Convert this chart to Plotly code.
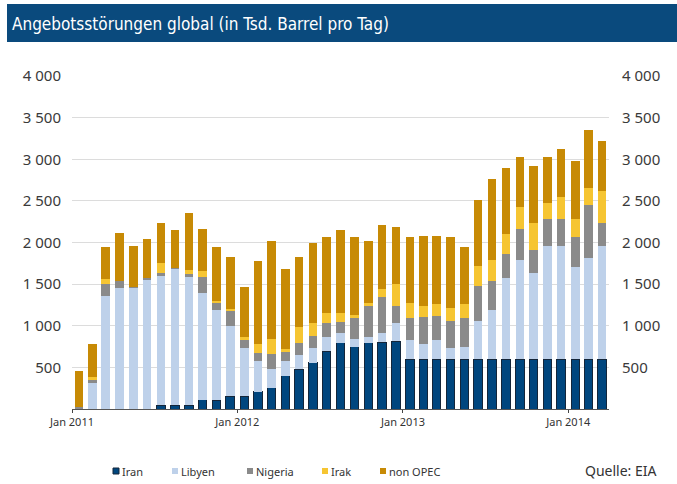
import pandas as pd
import plotly.graph_objects as go

# Monthly supply disruptions, thousand barrels per day
months = pd.date_range("2011-01-01", "2014-03-01", freq="MS")

iran = [0, 0, 0, 0, 0, 0, 48, 48, 48, 112, 108, 152,
        152, 208, 256, 400, 476, 556, 696, 796, 748, 796, 800, 816,
        600, 600, 600, 600, 600, 600, 600, 600, 600, 600, 600, 600,
        600, 600, 600]
libyen = [0, 310, 1356, 1448, 1456, 1556, 1548, 1640, 1548, 1284, 1080, 844,
          576, 372, 220, 180, 172, 172, 172, 120, 92, 72, 116, 212,
          228, 176, 228, 128, 148, 456, 588, 968, 1188, 1028, 1356, 1356,
          1100, 1208, 1356]
nigeria = [20, 35, 140, 92, 12, 16, 32, 8, 20, 188, 92, 184,
           100, 96, 184, 100, 148, 148, 168, 124, 248, 368, 432, 212,
           260, 324, 292, 332, 348, 420, 352, 292, 380, 280, 332, 332,
           368, 648, 284]
irak = [0, 45, 68, 0, 0, 0, 128, 0, 52, 68, 20, 16,
        40, 100, 180, 44, 192, 152, 120, 116, 40, 32, 88, 256,
        188, 140, 140, 156, 164, 240, 248, 248, 260, 332, 192, 260,
        220, 200, 376]
non_opec = [436, 386, 380, 572, 496, 476, 480, 452, 692, 516, 644, 628,
            600, 996, 1180, 952, 836, 964, 912, 992, 940, 752, 772, 692,
            792, 844, 824, 848, 688, 800, 980, 792, 600, 680, 548, 576,
            692, 692, 604]

y_ticks = [500, 1000, 1500, 2000, 2500, 3000, 3500, 4000]
y_labels = ["500", "1 000", "1 500", "2 000", "2 500", "3 000", "3 500", "4 000"]

series = [
    ("Iran", iran, "#00467e"),
    ("Libyen", libyen, "#bed1ea"),
    ("Nigeria", nigeria, "#8a8a8a"),
    ("Irak", irak, "#f6c532"),
    ("non OPEC", non_opec, "#c78a05"),
]

# plot area in pixels
W, H = 677, 484
L, R, T, B = 72, 609, 76, 409


def px_x(x):
    return (x - L) / (R - L)


def px_y(y):
    return (B - y) / (B - T)


bar_w = 18.8 * 86400000  # ms

fig = go.Figure()
for name, vals, col in series:
    line = dict(width=1, color="#14263a") if name == "Iran" else dict(width=0)
    fig.add_trace(go.Bar(
        x=months, y=vals, name=name,
        xperiod="M1", xperiodalignment="middle",
        width=bar_w,
        marker=dict(color=col, line=line),
        showlegend=False,
    ))

# dummy point so the right-hand axis gets drawn
fig.add_trace(go.Scatter(x=[months[0]], y=[0], yaxis="y2", mode="markers",
                         marker=dict(opacity=0), hoverinfo="skip", showlegend=False))

tick_font = dict(family="Noto Sans", size=15, color="#3a3a3a")

fig.update_layout(
    width=W, height=H, autosize=False,
    barmode="stack",
    margin=dict(l=L, r=W - R, t=T, b=H - B),
    plot_bgcolor="white", paper_bgcolor="white",
    font=dict(family="Noto Sans", color="#3a3a3a"),
    xaxis=dict(
        type="date",
        range=["2011-01-01", "2014-04-01"],
        tick0="2011-01-01", dtick="M12", tickformat="%b %Y",
        ticks="outside", ticklen=3, tickcolor="#444",
        showline=True, linecolor="#555", linewidth=1,
        showgrid=False, tickfont=dict(size=11, color="#333"),
    ),
    yaxis=dict(
        range=[0, 4000], tickvals=y_ticks, ticktext=y_labels,
        showgrid=True, gridcolor="#dcdcdc", gridwidth=1,
        zeroline=False, tickfont=tick_font,
        ticklabelstandoff=10,
    ),
    yaxis2=dict(
        range=[0, 4000], tickvals=y_ticks, ticktext=y_labels,
        overlaying="y", side="right", showgrid=False, zeroline=False,
        tickfont=tick_font,
        ticklabelstandoff=12,
    ),
)

# title banner
fig.add_shape(type="rect", xref="paper", yref="paper",
              x0=px_x(7), x1=px_x(680), y0=px_y(42), y1=px_y(4),
              fillcolor="#0a4a7d", line=dict(width=0), layer="below")
fig.add_annotation(xref="paper", yref="paper", x=px_x(10), y=px_y(24),
                   xanchor="left", yanchor="middle", showarrow=False,
                   text="Angebotsstörungen global (in Tsd. Barrel pro Tag)",
                   font=dict(family="DejaVu Sans Condensed, Roboto Condensed, Roboto",
                             size=17, color="white"))

# legend built by hand, like the original
legend_x = [113, 172, 247, 322, 380]
for (name, vals, col), lx in zip(series, legend_x):
    fig.add_shape(type="rect", xref="paper", yref="paper",
                  x0=px_x(lx), x1=px_x(lx + 6), y0=px_y(474), y1=px_y(468),
                  fillcolor=col,
                  line=dict(width=1 if name == "Iran" else 0, color="#14263a"))
    fig.add_annotation(xref="paper", yref="paper", x=px_x(lx + 7), y=px_y(471),
                       xanchor="left", yanchor="middle", showarrow=False,
                       text=name, font=dict(size=11, color="#333"))

fig.add_annotation(xref="paper", yref="paper", x=px_x(583), y=px_y(470),
                   xanchor="left", yanchor="middle", showarrow=False,
                   text="Quelle: EIA", font=dict(size=14, color="#333"))

fig.write_html("out.html", config={"displayModeBar": False},
               post_script="document.body.style.margin='0';")
